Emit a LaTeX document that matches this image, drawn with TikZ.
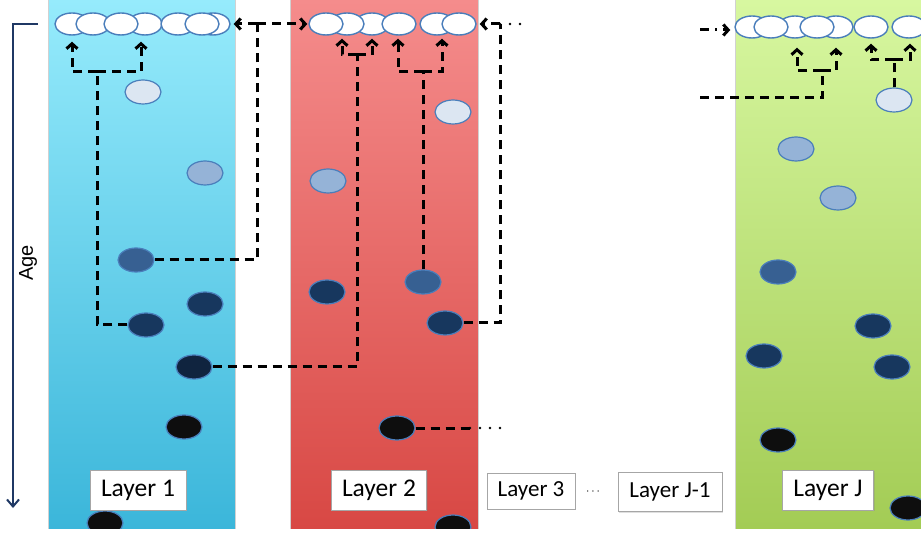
\documentclass[tikz,border=0pt]{standalone}
\usepackage{fontspec}
\setmainfont{Carlito}
\newfontfamily\agefont{Liberation Sans}
\usetikzlibrary{arrows.meta,shapes.geometric,shadows}
\definecolor{bluetop}{HTML}{96EBFC}
\definecolor{bluebot}{HTML}{3BB6DA}
\definecolor{redtop}{HTML}{F58C8C}
\definecolor{redbot}{HTML}{D84844}
\definecolor{greentop}{HTML}{D7F7A0}
\definecolor{greenbot}{HTML}{A3CC55}
\definecolor{elledge}{HTML}{4A7EBB}
\definecolor{clight}{HTML}{DCE6F2}
\definecolor{cmed}{HTML}{95B3D7}
\definecolor{cmeddark}{HTML}{376092}
\definecolor{cdark}{HTML}{17375E}
\definecolor{cvdark}{HTML}{10243F}
\definecolor{cblack}{HTML}{0E0E0E}
\definecolor{agecol}{HTML}{1F3864}
\tikzset{
  panel/.style={draw=black!18, line width=0.6pt},
  topell/.style={ellipse, minimum width=34pt, minimum height=22pt, inner sep=0pt, fill=white, draw=elledge, line width=1.4pt},
  ind/.style={ellipse, minimum width=36pt, minimum height=24pt, inner sep=0pt, draw=elledge, line width=1.2pt},
  conn/.style={line width=3pt, dash pattern=on 9pt off 6pt},
  tip/.style={-{Straight Barb[length=5pt,width=11pt]}},
  dotline/.style={line width=2.8pt, line cap=round, dash pattern=on 0pt off 10pt},
  dashdot/.style={line width=3pt, dash pattern=on 9pt off 6pt on 2pt off 6pt},
  lbl/.style={draw=black!35, fill=white, line width=1pt, inner sep=0pt, font=\fontsize{25.5}{28}\selectfont,
    drop shadow={shadow xshift=1pt, shadow yshift=-1pt, opacity=0.25}},
  lbls/.style={lbl, font=\fontsize{23}{26}\selectfont},
  agearrow/.style={draw=agecol, line width=2pt, -{Straight Barb[length=7pt,width=12pt]}}
}
\begin{document}
\begin{tikzpicture}[x=1pt,y=-1pt]
\useasboundingbox (0,0) rectangle (921,534);
\begin{scope}
\clip (0,0) rectangle (921,528);
% panels
\shade[top color=bluetop, bottom color=bluebot] (48,0) rectangle (235,528);
\draw[panel] (48,-2) rectangle (235,530);
\shade[top color=redtop, bottom color=redbot] (290,0) rectangle (478,528);
\draw[panel] (290,-2) rectangle (478,530);
\shade[top color=greentop, bottom color=greenbot] (735,0) rectangle (923,528);
\draw[panel] (735,-2) rectangle (923,530);

% Age axis
\coordinate (ageTop) at (38,24);
\coordinate (ageCorner) at (13,24);
\coordinate (ageBot) at (13,508);
\draw[agearrow] (ageTop) -- (ageCorner) -- (ageBot);
\node[font=\agefont\fontsize{20}{22}\selectfont, rotate=90] (age) at (28,263) {Age};

% top row layer 1
\node[topell] (t11) at (72,24) {};
\node[topell] (t12) at (93,24) {};
\node[topell] (t14) at (145,24) {};
\node[topell] (t13) at (121,24) {};
\node[topell] (t15) at (178,24) {};
\node[topell] (t17) at (213,24) {};
\node[topell] (t16) at (202,24) {};
% top row layer 2
\node[topell] (t23) at (372,24) {};
\node[topell] (t22) at (347,24) {};
\node[topell] (t21) at (326,24) {};
\node[topell] (t24) at (399,24) {};
\node[topell] (t25) at (437,24) {};
\node[topell] (t26) at (459,24) {};
% top row layer J
\node[topell] (tJ1) at (752,27) {};
\node[topell] (tJ3) at (795,27) {};
\node[topell] (tJ2) at (771,27) {};
\node[topell] (tJ5) at (836,27) {};
\node[topell] (tJ4) at (817,27) {};
\node[topell] (tJ6) at (871,27) {};
\node[topell] (tJ7) at (909,27) {};

% individuals layer 1
\node[ind, fill=clight] (p1a) at (143,92) {};
\node[ind, fill=cmed] (p1b) at (205,173) {};
\node[ind, fill=cmeddark] (p1c) at (136,260) {};
\node[ind, fill=cdark] (p1d) at (205,304) {};
\node[ind, fill=cdark] (p1e) at (146,325) {};
\node[ind, fill=cvdark] (p1f) at (194,367) {};
\node[ind, fill=cblack] (p1g) at (184,427) {};
\node[ind, fill=cblack] (p1h) at (105,523) {};
% individuals layer 2
\node[ind, fill=clight] (p2a) at (453,112) {};
\node[ind, fill=cmed] (p2b) at (328,181) {};
\node[ind, fill=cdark] (p2c) at (327,292) {};
\node[ind, fill=cmeddark] (p2d) at (423,282) {};
\node[ind, fill=cdark] (p2e) at (445,323) {};
\node[ind, fill=cblack] (p2f) at (397,428) {};
\node[ind, fill=cblack] (p2g) at (453,527) {};
% individuals layer J
\node[ind, fill=clight] (pJa) at (894,100) {};
\node[ind, fill=cmed] (pJb) at (796,149) {};
\node[ind, fill=cmed] (pJc) at (838,198) {};
\node[ind, fill=cmeddark] (pJd) at (778,272) {};
\node[ind, fill=cdark] (pJe) at (873,326) {};
\node[ind, fill=cdark] (pJf) at (764,356) {};
\node[ind, fill=cdark] (pJg) at (892,367) {};
\node[ind, fill=cblack] (pJh) at (778,440) {};
\node[ind, fill=cblack] (pJi) at (908,508) {};

% connector 1
\coordinate (j1) at (97,72);
\draw[conn] (p1e.west) -| (j1);
\draw[conn,tip,shorten >=6pt] (j1) -| (t11.south);
\draw[conn,tip,shorten >=6pt] (j1) -| ([xshift=-4pt]t14.south);
% connector 2
\coordinate (j2) at (257,24);
\draw[conn] (p1c.east) -| (j2);
\draw[conn,tip,shorten >=3pt] (j2) -- (t17.east);
\draw[conn,tip,shorten >=1pt] (j2) -- (t21.west);
% connector 3
\coordinate (j3) at (357,55);
\draw[conn] (p1f.east) -| (j3);
\draw[conn,tip,shorten >=3pt] (j3) -| ([xshift=-5pt]t22.south);
\draw[conn,tip,shorten >=3pt] (j3) -| (t23.south);
% connector 4
\coordinate (j4) at (423,72);
\draw[conn] (p2d.north) -- (j4);
\draw[conn,tip,shorten >=3pt] (j4) -| ([xshift=-1pt]t24.south);
\draw[conn,tip,shorten >=3pt] (j4) -| ([xshift=5pt]t25.south);
% connector 5
\coordinate (j5) at (500,24);
\coordinate (d5) at (530,24);
\draw[conn] (p2e.east) -| (j5);
\draw[conn,tip,shorten >=3pt] (j5) -- (t26.east);
\draw[dotline] (j5) -- (d5);
% connector 6
\coordinate (k6) at (470,428);
\coordinate (d6) at (505,428);
\draw[conn] (p2f.east) -- (k6);
\draw[dotline] (k6) -- (d6);
% connector 7
\coordinate (s7) at (700,30);
\draw[dashdot,tip,shorten >=4pt] (s7) -- (s7 -| tJ1.west);
% connector 8
\coordinate (s8) at (700,98);
\coordinate (j8) at (822,71);
\draw[conn] (s8) -| (j8);
\draw[conn,tip,shorten >=9pt] (j8) -| ([xshift=2pt]tJ3.south);
\draw[conn,tip,shorten >=9pt] (j8) -| (tJ5.south);
% connector 9
\coordinate (j9) at (894,60);
\draw[conn] (pJa.north) -- (j9);
\draw[conn,tip,shorten >=5pt] (j9) -| (tJ6.south);
\draw[conn,tip,shorten >=5pt] (j9) -| ([xshift=1pt]tJ7.south);

% labels
\node[lbl, minimum width=96pt, minimum height=40pt] (L1) at (138,490) {Layer 1};
\node[lbl, minimum width=95pt, minimum height=40pt] (L2) at (379,490) {Layer 2};
\node[lbls, minimum width=88pt, minimum height=36pt] (L3) at (531,491) {Layer 3};
\node[font=\fontsize{13}{13}\selectfont] (dots) at (593,492) {$\cdots$};
\node[lbls, minimum width=104pt, minimum height=39pt] (LJm) at (670,492) {Layer J-1};
\node[lbl, minimum width=91pt, minimum height=40pt] (LJ) at (828,490) {Layer J};
\end{scope}
\end{tikzpicture}
\end{document}
